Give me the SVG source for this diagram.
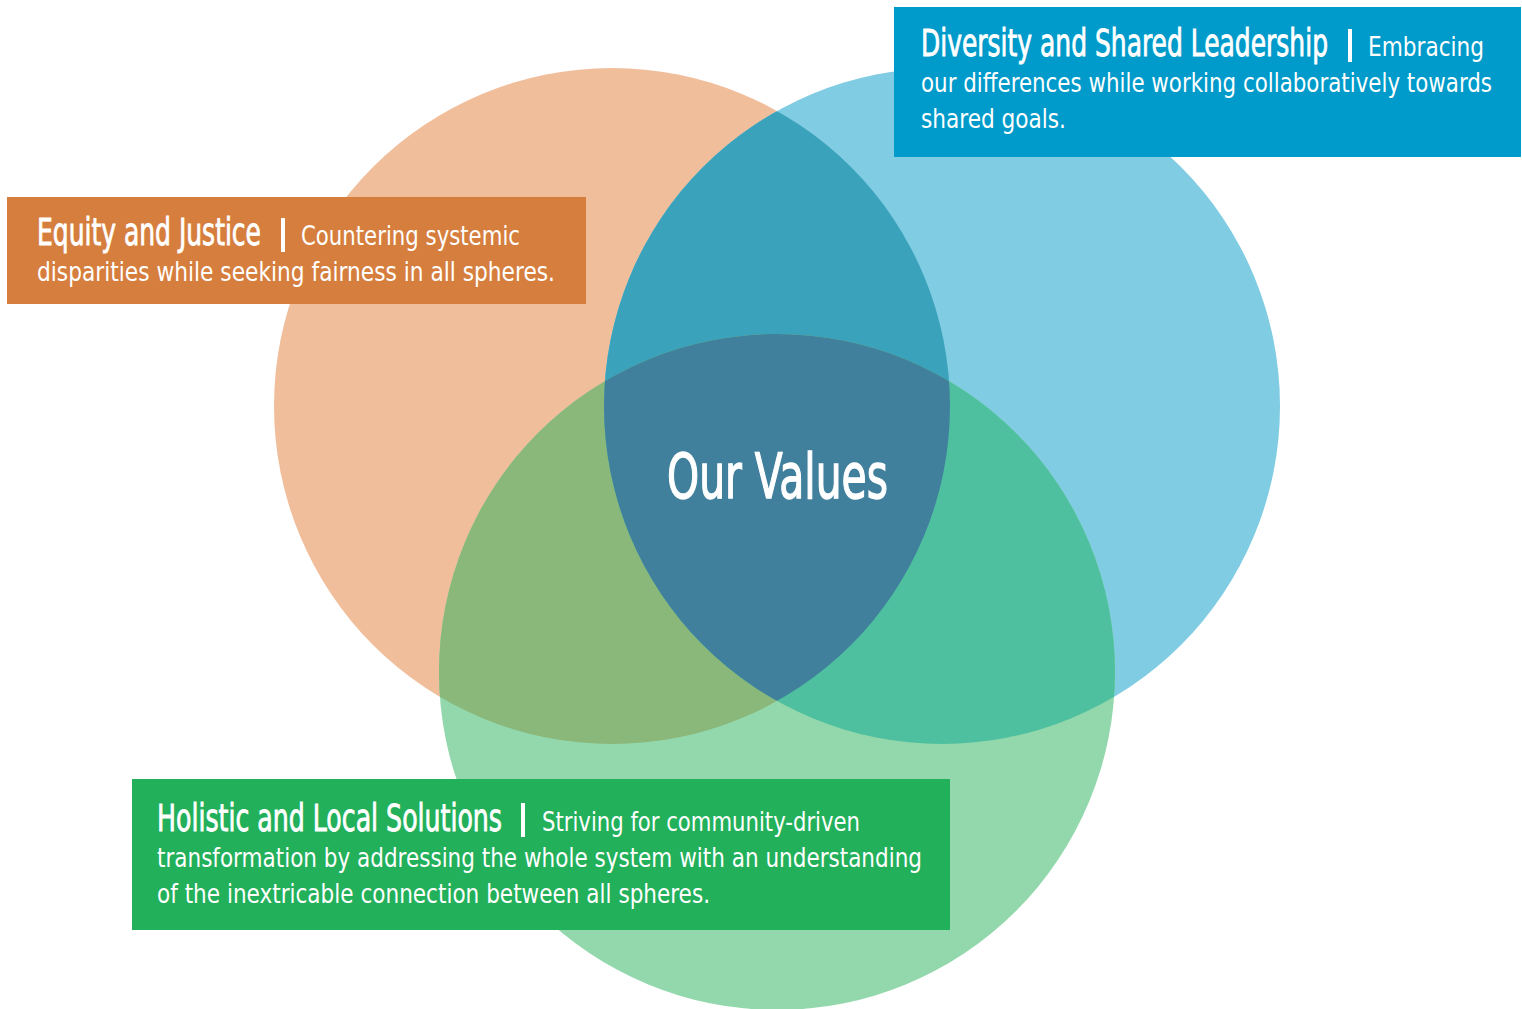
<svg xmlns="http://www.w3.org/2000/svg" width="1522" height="1009" viewBox="0 0 1522 1009">
<style>
.t{font-family:"Liberation Sans Narrow","DejaVu Sans Condensed","Liberation Sans",sans-serif;fill:#fff}
.h{font-size:37px;stroke:#fff;stroke-width:0.8}
.b{font-size:26px}
.bar{stroke:#fff;stroke-width:4}
</style>
<defs>
<clipPath id="cO"><circle cx="612" cy="406" r="338"/></clipPath>
<clipPath id="cB"><circle cx="942" cy="406" r="338"/></clipPath>
</defs>
<rect width="1522" height="1009" fill="#fff"/>
<g id="circles">
<g id="circle-equity"><circle cx="612" cy="406" r="338" fill="#f1be9c"/></g>
<g id="circle-diversity"><circle cx="942" cy="406" r="338" fill="#80cce3"/></g>
<g id="circle-holistic"><circle cx="777" cy="672" r="338" fill="#93d8ac"/></g>
<g id="overlaps">
<circle cx="942" cy="406" r="338" fill="#3aa2bb" clip-path="url(#cO)"/>
<circle cx="777" cy="672" r="338" fill="#8ab77a" clip-path="url(#cO)"/>
<circle cx="777" cy="672" r="338" fill="#4fc09f" clip-path="url(#cB)"/>
<g clip-path="url(#cO)"><circle cx="777" cy="672" r="338" fill="#40809d" clip-path="url(#cB)"/></g>
</g>
</g>
<g id="center-label">
<text class="t" x="667" y="498" font-size="62" stroke="#fff" stroke-width="1.3" textLength="221" lengthAdjust="spacingAndGlyphs">Our Values</text>
</g>
<g id="box-equity">
<rect x="7" y="197" width="579" height="107" fill="#d67e3d"/>
<text class="t h" x="37" y="245" textLength="224" lengthAdjust="spacingAndGlyphs">Equity and Justice</text>
<line class="bar" x1="283" y1="218" x2="283" y2="252"/>
<text class="t b" x="301" y="245" textLength="219" lengthAdjust="spacingAndGlyphs">Countering systemic</text>
<text class="t b" x="37" y="281" textLength="518" lengthAdjust="spacingAndGlyphs">disparities while seeking fairness in all spheres.</text>
</g>
<g id="box-diversity">
<rect x="894" y="7" width="627" height="150" fill="#009bca"/>
<text class="t h" x="921" y="56" textLength="407" lengthAdjust="spacingAndGlyphs">Diversity and Shared Leadership</text>
<line class="bar" x1="1350" y1="29" x2="1350" y2="62"/>
<text class="t b" x="1368" y="56" textLength="116" lengthAdjust="spacingAndGlyphs">Embracing</text>
<text class="t b" x="921" y="92" textLength="571" lengthAdjust="spacingAndGlyphs">our differences while working collaboratively towards</text>
<text class="t b" x="921" y="128" textLength="145" lengthAdjust="spacingAndGlyphs">shared goals.</text>
</g>
<g id="box-holistic">
<rect x="132" y="779" width="818" height="151" fill="#22b05b"/>
<text class="t h" x="157" y="831" textLength="345" lengthAdjust="spacingAndGlyphs">Holistic and Local Solutions</text>
<line class="bar" x1="523" y1="803" x2="523" y2="837"/>
<text class="t b" x="542" y="831" textLength="318" lengthAdjust="spacingAndGlyphs">Striving for community-driven</text>
<text class="t b" x="157" y="867" textLength="765" lengthAdjust="spacingAndGlyphs">transformation by addressing the whole system with an understanding</text>
<text class="t b" x="157" y="903" textLength="553" lengthAdjust="spacingAndGlyphs">of the inextricable connection between all spheres.</text>
</g>
<g id="connectors"/>
</svg>
